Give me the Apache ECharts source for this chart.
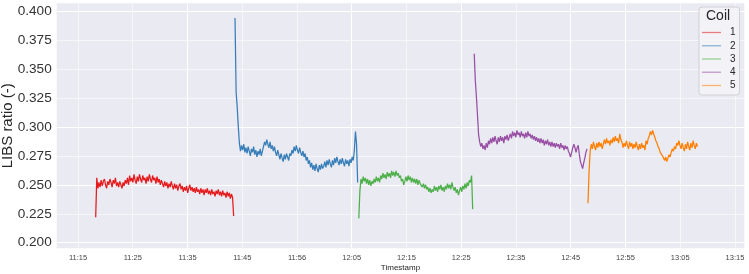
<!DOCTYPE html>
<html>
<head>
<meta charset="utf-8">
<script src="https://cdn.jsdelivr.net/npm/echarts@6/dist/echarts.min.js"></script>
<style>
html,body{margin:0;padding:0;background:#fff;}
#chart{width:749px;height:274px;}
</style>
</head>
<body>
<div id="chart"></div>
<script>
// Time axis in minutes after 11:00; samples every STEP minutes
const STEP = 0.2;
const coilNames = ['1', '2', '3', '4', '5'];
const coilStarts = [18.23, 43.68, 66.29, 87.37, 108.15];

const coil1 = [0.222,0.256,0.247,0.252,0.248,0.254,0.249,0.253,0.255,0.250,0.247,0.253,0.250,0.255,0.252,0.248,
  0.254,0.251,0.256,0.249,0.252,0.248,0.253,0.250,0.247,0.252,0.249,0.254,0.251,0.256,0.250,0.258,
  0.253,0.256,0.252,0.259,0.254,0.251,0.257,0.253,0.259,0.255,0.252,0.258,0.254,0.256,0.251,0.257,
  0.253,0.259,0.255,0.252,0.258,0.254,0.256,0.251,0.257,0.252,0.255,0.250,0.254,0.251,0.248,0.253,
  0.249,0.252,0.247,0.251,0.248,0.253,0.249,0.246,0.251,0.247,0.250,0.245,0.249,0.251,0.246,0.249,
  0.244,0.248,0.245,0.249,0.243,0.247,0.250,0.245,0.248,0.244,0.247,0.243,0.248,0.244,0.246,0.242,
  0.247,0.243,0.246,0.241,0.246,0.243,0.247,0.242,0.245,0.241,0.246,0.242,0.244,0.240,0.245,0.242,
  0.246,0.241,0.244,0.240,0.245,0.241,0.243,0.239,0.244,0.240,0.243,0.238,0.242,0.239,0.223];
const coil2 = [0.394,0.330,0.317,0.300,0.286,0.279,0.284,0.280,0.285,0.278,0.282,0.277,0.283,0.279,0.275,0.281,
  0.278,0.283,0.276,0.280,0.274,0.279,0.276,0.281,0.275,0.279,0.283,0.287,0.284,0.289,0.285,0.282,
  0.287,0.281,0.284,0.279,0.283,0.278,0.275,0.280,0.276,0.272,0.277,0.273,0.270,0.276,0.272,0.277,
  0.274,0.271,0.277,0.275,0.280,0.277,0.283,0.279,0.284,0.280,0.277,0.282,0.278,0.275,0.279,0.274,
  0.277,0.271,0.274,0.268,0.271,0.265,0.269,0.263,0.267,0.262,0.268,0.264,0.261,0.267,0.263,0.268,
  0.264,0.266,0.270,0.265,0.271,0.267,0.272,0.268,0.265,0.271,0.267,0.273,0.269,0.274,0.270,0.267,
  0.272,0.268,0.273,0.269,0.266,0.272,0.268,0.271,0.266,0.272,0.269,0.274,0.271,0.280,0.296,0.285,
  0.252];
const coil3 = [0.221,0.245,0.255,0.251,0.257,0.253,0.256,0.251,0.255,0.250,0.254,0.249,0.253,0.251,0.255,0.252,
  0.257,0.253,0.256,0.252,0.258,0.255,0.260,0.256,0.259,0.255,0.261,0.257,0.260,0.256,0.262,0.258,
  0.261,0.257,0.262,0.258,0.260,0.256,0.258,0.253,0.255,0.250,0.253,0.257,0.253,0.258,0.254,0.257,
  0.252,0.256,0.252,0.255,0.251,0.255,0.250,0.254,0.251,0.252,0.248,0.251,0.247,0.250,0.246,0.248,
  0.244,0.247,0.243,0.246,0.244,0.249,0.245,0.248,0.244,0.249,0.246,0.250,0.245,0.248,0.244,0.249,
  0.246,0.251,0.247,0.250,0.246,0.252,0.248,0.245,0.248,0.243,0.246,0.241,0.245,0.248,0.244,0.249,
  0.246,0.251,0.247,0.252,0.249,0.254,0.252,0.258,0.229];
const coil4 = [0.363,0.340,0.326,0.310,0.293,0.287,0.283,0.286,0.281,0.284,0.280,0.286,0.282,0.288,0.285,0.290,
  0.286,0.291,0.287,0.292,0.288,0.285,0.291,0.287,0.292,0.288,0.291,0.286,0.292,0.289,0.293,0.288,
  0.291,0.294,0.290,0.296,0.292,0.295,0.291,0.297,0.293,0.295,0.291,0.296,0.292,0.294,0.290,0.295,
  0.291,0.296,0.292,0.294,0.290,0.293,0.289,0.292,0.288,0.291,0.287,0.290,0.286,0.290,0.286,0.289,
  0.284,0.288,0.285,0.289,0.284,0.287,0.283,0.287,0.283,0.286,0.282,0.286,0.283,0.285,0.281,0.286,
  0.282,0.284,0.280,0.284,0.281,0.283,0.279,0.277,0.274,0.278,0.282,0.285,0.282,0.278,0.282,0.284,
  0.276,0.270,0.267,0.264,0.269,0.273,0.278,0.281];
const coil5 = [0.234,0.262,0.279,0.285,0.281,0.287,0.283,0.280,0.286,0.282,0.287,0.283,0.286,0.281,0.285,0.289,
  0.285,0.290,0.286,0.288,0.284,0.289,0.286,0.291,0.287,0.292,0.288,0.290,0.286,0.294,0.289,0.287,
  0.282,0.286,0.283,0.288,0.284,0.281,0.287,0.283,0.286,0.281,0.285,0.282,0.287,0.283,0.280,0.285,
  0.281,0.286,0.282,0.284,0.280,0.288,0.285,0.290,0.292,0.296,0.293,0.297,0.294,0.291,0.288,0.286,
  0.283,0.281,0.278,0.279,0.275,0.273,0.271,0.274,0.270,0.273,0.276,0.274,0.278,0.281,0.279,0.283,
  0.281,0.286,0.284,0.288,0.284,0.281,0.286,0.282,0.279,0.285,0.281,0.287,0.283,0.280,0.286,0.282,
  0.288,0.284,0.281,0.286,0.283];
const coilValues = [coil1, coil2, coil3, coil4, coil5];
const coilColors = ['#e41a1c', '#377eb8', '#4daf4a', '#984ea3', '#ff7f00'];

const xTickValues = [15,25,35,45,55,65,75,85,95,105,115,125,135];
const xTickLabels = ['11:15','11:25','11:35','11:45','11:56','12:05','12:15','12:25','12:35','12:45','12:55','13:05','13:15'];
const yTickValues = [0.200,0.225,0.250,0.275,0.300,0.325,0.350,0.375,0.400];

const B = '#ffffff', F = 'rgba(255,255,255,0.55)';
const xGridColors = [F,F,B,F,F,B,F,B,F,B,B,F,F];
const yGridColors = [B,F,B,F,B,F,F,F,B];

const FONT = 'Liberation Sans, Arial, sans-serif';

const series = coilNames.map((name, k) => ({
  name: name,
  type: 'line',
  showSymbol: false,
  symbol: 'none',
  lineStyle: { width: 1.25, color: coilColors[k] },
  itemStyle: { color: coilColors[k] },
  data: coilValues[k].map((v, i) => [coilStarts[k] + i * STEP, v]),
  animation: false
}));

const chart = echarts.init(document.getElementById('chart'), null, { renderer: 'canvas' });
chart.setOption({
  animation: false,
  backgroundColor: '#ffffff',
  textStyle: { fontFamily: FONT },
  grid: {
    left: 56.7, right: 4.7, top: 3.3, bottom: 25.7,
    containLabel: false,
    outerBoundsMode: 'none',
    show: true, backgroundColor: '#eaeaf2', borderWidth: 0
  },
  xAxis: {
    type: 'value',
    min: 11.11, max: 136.7,
    name: 'Timestamp',
    nameLocation: 'middle',
    nameGap: 15,
    nameMoveOverlap: false,
    nameTextStyle: { fontSize: 8, color: '#262626', fontFamily: FONT },
    axisLine: { show: false },
    axisTick: { show: false, customValues: xTickValues },
    axisLabel: {
      customValues: xTickValues,
      fontSize: 7.5, color: '#444444', margin: 6,
      fontFamily: FONT,
      formatter: v => xTickLabels[Math.round((v - 15) / 10)]
    },
    splitLine: { show: true, lineStyle: { color: xGridColors, width: 1 } }
  },
  yAxis: {
    type: 'value',
    min: 0.1952, max: 0.4066,
    name: 'LIBS ratio (-)',
    nameLocation: 'middle',
    nameGap: 41,
    nameMoveOverlap: false,
    nameTextStyle: { fontSize: 15, color: '#262626', fontFamily: FONT },
    axisLine: { show: false },
    axisTick: { show: false, customValues: yTickValues },
    axisLabel: {
      customValues: yTickValues,
      fontSize: 13.6, color: '#333333', margin: 5,
      fontFamily: FONT,
      formatter: v => v.toFixed(3)
    },
    splitLine: { show: true, lineStyle: { color: yGridColors, width: 1 } }
  },
  legend: {
    orient: 'vertical',
    left: 699, top: 7,
    padding: [19, 4, 3, 3],
    icon: 'rect',
    itemWidth: 19, itemHeight: 1.3, itemGap: 0.25,
    itemStyle: { opacity: 0.55 },
    backgroundColor: 'rgba(244,244,248,0.85)',
    borderColor: '#cfcfd6', borderWidth: 1, borderRadius: 3,
    textStyle: { fontSize: 10, color: '#262626', lineHeight: 13, padding: [0, 0, 0, 4], fontFamily: FONT },
    data: coilNames
  },
  graphic: [{
    type: 'text', left: 706, top: 9, z: 100,
    style: { text: 'Coil', fontSize: 14, fill: '#262626', fontFamily: FONT }
  }],
  series: series
});
</script>
</body>
</html>
